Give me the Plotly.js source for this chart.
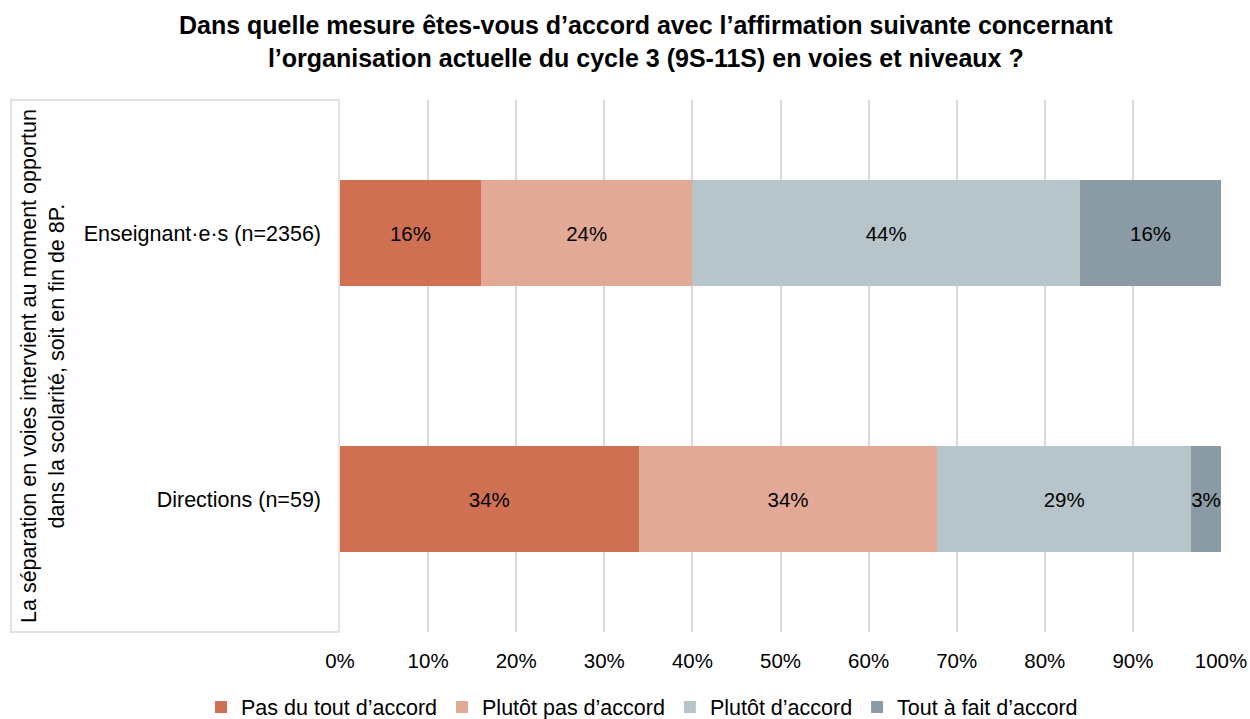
<!DOCTYPE html>
<html><head><meta charset="utf-8">
<script src="https://cdn.plot.ly/plotly-3.0.1.min.js"></script>
<style>body{margin:0;background:#fff}#chart{width:1250px;height:719px}</style>
</head><body><div id="chart"></div>
<script>
const categories = ["Enseignant·e·s (n=2356)", "Directions (n=59)"];
const seriesNames = ["Pas du tout d’accord", "Plutôt pas d’accord", "Plutôt d’accord", "Tout à fait d’accord"];
const pasDuTout = [16, 33.9];
const plutotPas = [24, 33.9];
const plutot = [44, 28.8];
const toutAFait = [16, 3.4];
const colors = ["#D07053", "#E2A997", "#B7C4CA", "#8A9BA5"];
const xTickVals = [0,10,20,30,40,50,60,70,80,90,100];
const xTickText = ["0%","10%","20%","30%","40%","50%","60%","70%","80%","90%","100%"];
const yTitle = "La séparation en voies intervient au moment opportun<br>dans la scolarité, soit en fin de 8P.";
const chartTitle = "<b>Dans quelle mesure êtes-vous d’accord avec l’affirmation suivante concernant<br>l’organisation actuelle du cycle 3 (9S-11S) en voies et niveaux ?</b>";

const FONT = "Liberation Sans, Arial, sans-serif";
const series = [pasDuTout, plutotPas, plutot, toutAFait];
const traces = series.map((vals, i) => ({
  type: 'bar', orientation: 'h', name: seriesNames[i],
  y: categories, x: vals,
  marker: {color: colors[i], line: {width: 0}},
  texttemplate: '%{x:.0f}%', textposition: 'inside', insidetextanchor: 'middle',
  constraintext: 'none', textangle: 0,
  textfont: {family: FONT, size: 20.5, color: '#000'},
  hoverinfo: 'skip'
}));

const layout = {
  width: 1250, height: 719,
  margin: {l: 340, r: 29, t: 100, b: 87, autoexpand: false},
  paper_bgcolor: '#fff', plot_bgcolor: '#fff',
  font: {family: FONT, size: 21, color: '#000'},
  barmode: 'stack', bargap: 0.6,
  xaxis: {range: [0, 100], tickvals: xTickVals, ticktext: xTickText,
          showgrid: true, gridcolor: '#D9D9D9', gridwidth: 2, zeroline: false,
          showline: false, ticks: '', ticklabelstandoff: 14,
          tickfont: {family: FONT, size: 20.5, color: '#000'}},
  yaxis: {type: 'category', categoryorder: 'array', categoryarray: categories,
          autorange: 'reversed', showgrid: false, zeroline: false, showline: false,
          ticks: '', ticklabelstandoff: 18,
          tickfont: {family: FONT, size: 21.5, color: '#000'}},
  showlegend: true,
  legend: {orientation: 'h', x: (642-340)/881, xanchor: 'center', yref: 'container', y: 0.0167, yanchor: 'middle',
           font: {family: FONT, size: 21.5, color: '#000'}, traceorder: 'normal',
           itemwidth: 30},
  shapes: [{type: 'rect', xref: 'paper', yref: 'paper',
            x0: -329/881, x1: -1/881, y0: 0, y1: 1,
            line: {color: '#D9D9D9', width: 1.5}, fillcolor: 'rgba(0,0,0,0)', layer: 'below'}],
  annotations: [
    {text: chartTitle, xref: 'paper', yref: 'paper', x: (646-340)/881, y: (632-42)/532,
     xanchor: 'center', yanchor: 'middle', showarrow: false,
     font: {family: FONT, size: 25, color: '#000'}},
    {text: yTitle, xref: 'paper', yref: 'paper',
     x: (43-340)/881, y: (632-366)/532, xanchor: 'center', yanchor: 'middle',
     textangle: -90, showarrow: false,
     font: {family: FONT, size: 21.5, color: '#000'}}]
};
Plotly.newPlot('chart', traces, layout, {displayModeBar: false, staticPlot: true});
</script></body></html>
